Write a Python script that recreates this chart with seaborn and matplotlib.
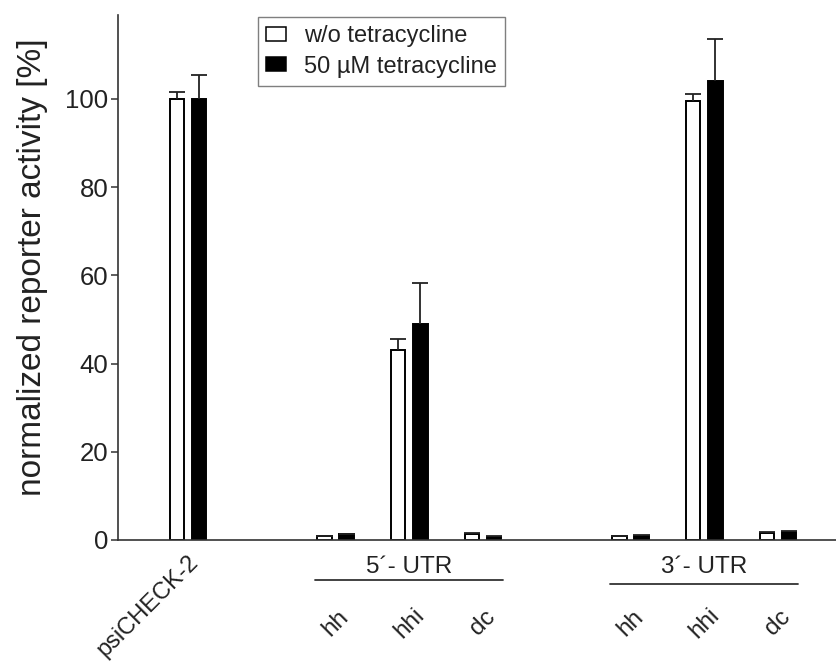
import numpy as np
import pandas as pd
import matplotlib
matplotlib.use("Agg")
import matplotlib.pyplot as plt
import matplotlib.transforms as mtransforms
from matplotlib.patches import Patch
import seaborn as sns

# ---------------- data ----------------
positions = [0, 2, 3, 4, 6, 7, 8]
tick_labels = ["psiCHECK-2", "hh", "hhi", "dc", "hh", "hhi", "dc"]
conditions = ["w/o tetracycline", "50 µM tetracycline"]
wo_values = [100.0, 0.9, 43.0, 1.3, 0.9, 99.4, 1.6]
wo_err = [1.6, 0.1, 2.6, 0.3, 0.1, 1.8, 0.1]
tet_values = [100.0, 1.3, 49.0, 0.7, 1.0, 104.1, 1.9]
tet_err = [5.4, 0.1, 9.3, 0.1, 0.1, 9.4, 0.1]
group_labels = ["5\u00b4- UTR", "3\u00b4- UTR"]
group_members = [[1, 2, 3], [4, 5, 6]]
yticks = [0, 20, 40, 60, 80, 100]
ylabel = "normalized reporter activity [%]"

# ---------------- style ----------------
sns.set_theme(style="ticks")
plt.rcParams["font.family"] = ["Liberation Sans", "DejaVu Sans"]
dark = "#333333"
txt = "#222222"

df = pd.DataFrame({
    "pos": positions * 2,
    "condition": [conditions[0]] * len(positions) + [conditions[1]] * len(positions),
    "value": wo_values + tet_values,
})

fig = plt.figure(figsize=(8.37, 6.62), dpi=100)
ax = fig.add_axes([0.141, 0.1843, 0.859, 0.793])

sns.barplot(data=df, x="pos", y="value", hue="condition", hue_order=conditions,
            palette=["white", "black"], native_scale=True, width=0.6, gap=0.35,
            dodge=True, errorbar=None, edgecolor="black", linewidth=1.4,
            legend=False, ax=ax)

# one-sided error bars
pos_arr = np.array(positions, dtype=float)
cap_w = 0.22
for cont, errs in zip(ax.containers, [wo_err, tet_err]):
    for bar in cont:
        cx = bar.get_x() + bar.get_width() / 2
        h = bar.get_height()
        idx = int(np.argmin(np.abs(pos_arr - cx)))
        e = errs[idx]
        ax.vlines(cx, h, h + e, color=txt, lw=1.3, zorder=3)
        ax.hlines(h + e, cx - cap_w / 2, cx + cap_w / 2, color=txt, lw=1.3, zorder=3)

ax.set_xlim(-0.95, 8.8)
ax.set_ylim(0, 119)
ax.set_yticks(yticks)
ax.set_xticks(positions)
ax.set_xticklabels([])
ax.tick_params(axis="x", length=0)
ax.tick_params(axis="y", length=5, width=1.1, pad=2, labelsize=18.5, color=dark, labelcolor=txt)
ax.set_xlabel("")
sns.despine(ax=ax)
for s in ["left", "bottom"]:
    ax.spines[s].set_color(dark)
    ax.spines[s].set_linewidth(1.2)

ax.set_ylabel(ylabel, fontsize=24, color=txt)
ax.yaxis.label.set_va("center")
ax.yaxis.set_label_coords(-0.119, 0.52)

trans = mtransforms.blended_transform_factory(ax.transData, ax.transAxes)

# x category labels
ax.text(positions[0] + 0.1, -0.036, tick_labels[0], transform=trans, rotation=45,
        rotation_mode="anchor", ha="right", va="center", fontsize=17, color=txt)
for p, lab in zip(positions[1:], tick_labels[1:]):
    ax.text(p, -0.158, lab, transform=trans, rotation=45, ha="center", va="center",
            fontsize=17.5, color=txt)

# group labels with lines
line_y = [-0.0762, -0.0838]
for glab, members, ly in zip(group_labels, group_members, line_y):
    ps = [positions[m] for m in members]
    center = np.mean(ps)
    ax.text(center, -0.063, glab, transform=trans, ha="center", va="baseline",
            fontsize=17.5, color=txt)
    ax.plot([ps[0] - 0.28, ps[-1] + 0.27], [ly, ly], transform=trans, clip_on=False,
            color=dark, lw=1.3)

handles = [Patch(facecolor="white", edgecolor="black", linewidth=1.1),
           Patch(facecolor="black", edgecolor="black", linewidth=1.1)]
leg = ax.legend(handles, conditions, loc="upper left",
                bbox_to_anchor=(258 / 837, 1 - 17 / 662), bbox_transform=fig.transFigure,
                borderaxespad=0, fontsize=17, frameon=True, fancybox=False,
                edgecolor="#7f7f7f", framealpha=1, handlelength=0.85, handleheight=0.55,
                handletextpad=0.75, labelspacing=0.35, borderpad=0.35)
leg.get_frame().set_linewidth(1.0)
for t in leg.get_texts():
    t.set_color(txt)

fig.savefig("out.png", dpi=100)
